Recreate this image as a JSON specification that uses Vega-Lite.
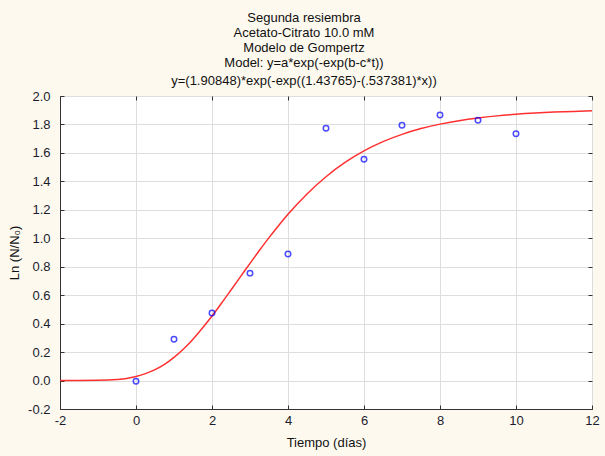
{
  "$schema": "https://vega.github.io/schema/vega-lite/v6.json",
  "autosize": "none",
  "width": 532,
  "height": 313,
  "padding": {"left": 60, "top": 96, "right": 13, "bottom": 47},
  "background": "#FDF9EF",
  "config": {
    "view": {"stroke": "#8a8a8a", "strokeWidth": 1, "fill": "white"},
    "font": "Liberation Sans",
    "axis": {
      "gridColor": "#dedede",
      "gridWidth": 1,
      "domainColor": "#333333",
      "tickColor": "#333333",
      "labelFont": "Liberation Sans",
      "labelFontSize": 13,
      "labelColor": "#1c1c2e",
      "titleFont": "Liberation Sans",
      "titleFontSize": 13,
      "titleFontWeight": "normal",
      "titleColor": "#111111"
    }
  },
  "title": {
    "text": ["Segunda resiembra", "Acetato-Citrato 10.0 mM", "Modelo de Gompertz", "Model: y=a*exp(-exp(b-c*t))"],
    "subtitle": "y=(1.90848)*exp(-exp((1.43765)-(.537381)*x))",
    "font": "Liberation Sans",
    "fontSize": 13,
    "fontWeight": "normal",
    "color": "#111111",
    "subtitleFont": "Liberation Sans",
    "subtitleFontSize": 13,
    "subtitleColor": "#111111",
    "lineHeight": 15,
    "subtitleLineHeight": 15,
    "subtitlePadding": 5,
    "anchor": "middle",
    "dx": -22,
    "offset": 2
  },
  "datasets": {
    "obs": [
      {"t": 0, "y": -0.005},
      {"t": 1, "y": 0.29},
      {"t": 2, "y": 0.474},
      {"t": 3, "y": 0.755},
      {"t": 4, "y": 0.889},
      {"t": 5, "y": 1.774},
      {"t": 6, "y": 1.556},
      {"t": 7, "y": 1.795},
      {"t": 8, "y": 1.866},
      {"t": 9, "y": 1.83},
      {"t": 10, "y": 1.735}
    ],
    "fit": [
      {"t": -2, "y": 0.0},
      {"t": -1.5, "y": 0.0002},
      {"t": -1, "y": 0.0014},
      {"t": -0.5, "y": 0.0077},
      {"t": -0.25, "y": 0.0150},
      {"t": 0, "y": 0.0283},
      {"t": 0.25, "y": 0.0485},
      {"t": 0.5, "y": 0.0764},
      {"t": 0.75, "y": 0.1140},
      {"t": 1, "y": 0.163},
      {"t": 1.25, "y": 0.2220},
      {"t": 1.5, "y": 0.291},
      {"t": 1.75, "y": 0.3690},
      {"t": 2, "y": 0.4533},
      {"t": 2.25, "y": 0.5430},
      {"t": 2.5, "y": 0.6361},
      {"t": 2.75, "y": 0.7300},
      {"t": 3, "y": 0.824},
      {"t": 3.25, "y": 0.9155},
      {"t": 3.5, "y": 1.0044},
      {"t": 3.75, "y": 1.0885},
      {"t": 4, "y": 1.1684},
      {"t": 4.5, "y": 1.3115},
      {"t": 5, "y": 1.4327},
      {"t": 5.5, "y": 1.5329},
      {"t": 6, "y": 1.6141},
      {"t": 6.5, "y": 1.6791},
      {"t": 7, "y": 1.7305},
      {"t": 7.5, "y": 1.7709},
      {"t": 8, "y": 1.8024},
      {"t": 8.5, "y": 1.8268},
      {"t": 9, "y": 1.8458},
      {"t": 9.5, "y": 1.8603},
      {"t": 10, "y": 1.8716},
      {"t": 10.5, "y": 1.8802},
      {"t": 11, "y": 1.8868},
      {"t": 11.5, "y": 1.8919},
      {"t": 12, "y": 1.8958}
    ]
  },
  "layer": [
    {
      "data": {"name": "fit"},
      "mark": {"type": "line", "color": "#ff3030", "strokeWidth": 1.5, "interpolate": "monotone", "clip": true},
      "encoding": {
        "x": {
          "field": "t", "type": "quantitative",
          "scale": {"domain": [-2, 12], "nice": false, "zero": false},
          "axis": {"values": [-2, 0, 2, 4, 6, 8, 10, 12], "title": "Tiempo (días)", "tickSize": -4, "labelPadding": 9, "titlePadding": 9, "labelFlush": false, "labelExpr": "replace(datum.label, '\u2212', '-')"}
        },
        "y": {
          "field": "y", "type": "quantitative",
          "scale": {"domain": [-0.2, 2.0], "nice": false, "zero": false},
          "axis": {"values": [-0.2, 0, 0.2, 0.4, 0.6, 0.8, 1.0, 1.2, 1.4, 1.6, 1.8, 2.0], "format": ".1f", "title": "Ln (N/N₀)", "tickSize": -4, "labelPadding": 14, "titlePadding": 6, "labelFlush": false, "labelExpr": "replace(datum.label, '\u2212', '-')"}
        }
      }
    },
    {
      "data": {"name": "obs"},
      "mark": {"type": "point", "shape": "circle", "filled": false, "color": "#0000ff", "size": 30, "strokeWidth": 1.5},
      "encoding": {
        "x": {"field": "t", "type": "quantitative", "axis": {"orient": "top", "values": [-2, 0, 2, 4, 6, 8, 10, 12], "labels": false, "title": null, "grid": false, "domain": false, "tickSize": -4}},
        "y": {"field": "y", "type": "quantitative", "axis": {"orient": "right", "values": [-0.2, 0, 0.2, 0.4, 0.6, 0.8, 1.0, 1.2, 1.4, 1.6, 1.8, 2.0], "labels": false, "title": null, "grid": false, "domain": false, "tickSize": -4}}
      }
    }
  ],
  "resolve": {"axis": {"x": "independent", "y": "independent"}}
}
